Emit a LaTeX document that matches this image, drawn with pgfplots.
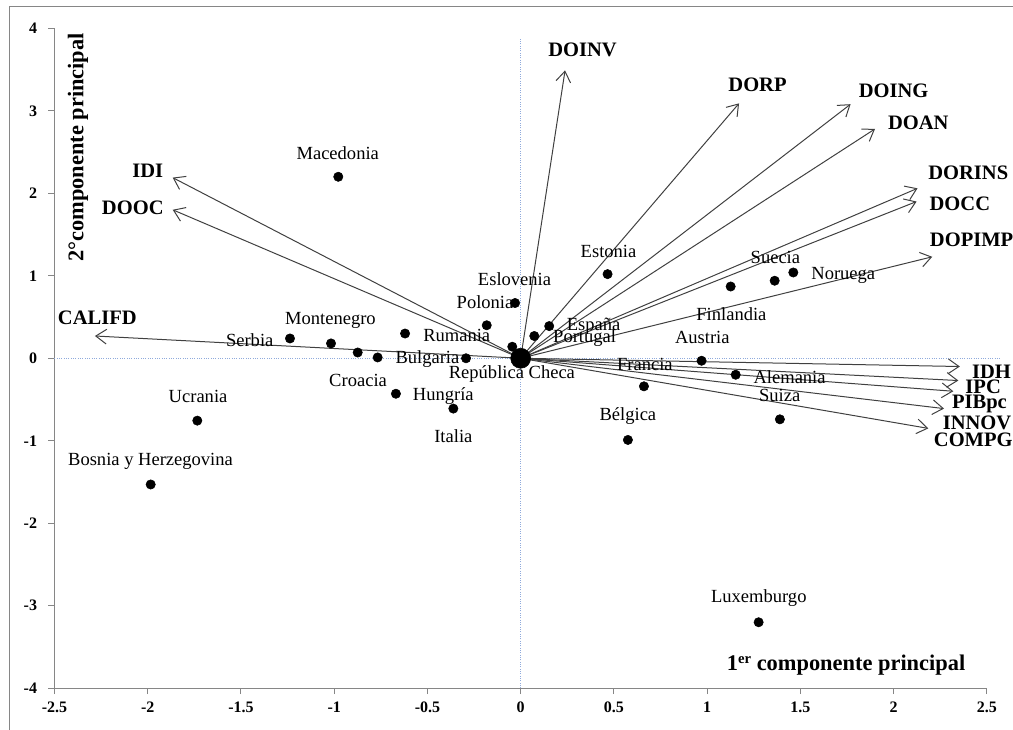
\documentclass[border=0pt]{standalone}
\usepackage{pgfplots}
\pgfplotsset{compat=1.18}
\usepackage{fontspec}
\setmainfont{Liberation Serif}
\usetikzlibrary{arrows.meta}
\definecolor{axgray}{HTML}{868686}
\definecolor{arrgray}{HTML}{404040}
\definecolor{refblue}{HTML}{8FAADC}
\pgfplotsset{
  vec/.style={arrgray, line width=0.75pt, -{Straight Barb[length=8pt,width=11pt]}, forget plot},
}
\tikzset{
  cl/.style={font=\fontsize{13.9}{16}\selectfont, inner sep=0pt},
  vl/.style={font=\bfseries\fontsize{15.4}{18}\selectfont, inner sep=0pt},
}
\begin{document}
\begin{tikzpicture}
\begin{axis}[
  x=139.875pt, y=61.875pt,
  xmin=-2.5, xmax=2.5, ymin=-4, ymax=4,
  axis lines*=left,
  axis line style={axgray, line width=0.75pt},
  xtick={-2.5,-2,-1.5,-1,-0.5,0,0.5,1,1.5,2,2.5},
  xticklabels={-2.5,-2,-1.5,-1,-0.5,0,0.5,1,1.5,2,2.5},
  ytick={-4,-3,-2,-1,0,1,2,3,4},
  yticklabels={-4,-3,-2,-1,0,1,2,3,4},
  tick align=outside, major tick length=4.5pt,
  tick style={axgray, line width=0.75pt},
  ticklabel style={font=\bfseries\fontsize{12}{14}\selectfont},
  xticklabel style={yshift=-2.5pt},
  yticklabel style={xshift=-5pt},
  clip=false,
]
% reference lines
\addplot[refblue, densely dotted, line width=0.75pt, forget plot] coordinates {(-2.5,0) (2.57,0)};
\addplot[refblue, densely dotted, line width=0.75pt, forget plot] coordinates {(0,-4) (0,3.87)};
% variable vectors
\addplot[vec] coordinates {(0,0) (-1.866,2.19)};   % IDI
\addplot[vec] coordinates {(0,0) (-1.866,1.80)};   % DOOC
\addplot[vec] coordinates {(0,0) (-2.283,0.27)};   % CALIFD
\addplot[vec] coordinates {(0,0) (0.238,3.49)};    % DOINV
\addplot[vec] coordinates {(0,0) (1.171,3.09)};    % DORP
\addplot[vec] coordinates {(0,0) (1.769,3.08)};    % DOING
\addplot[vec] coordinates {(0,0) (1.900,2.78)};    % DOAN
\addplot[vec] coordinates {(0,0) (2.128,2.06)};    % DORINS
\addplot[vec] coordinates {(0,0) (2.123,1.90)};    % DOCC
\addplot[vec] coordinates {(0,0) (2.207,1.23)};    % DOPIMP
\addplot[vec] coordinates {(0,0) (2.355,-0.10)};   % IDH
\addplot[vec] coordinates {(0,0) (2.347,-0.27)};   % IPC
\addplot[vec] coordinates {(0,0) (2.320,-0.40)};   % PIBpc
\addplot[vec] coordinates {(0,0) (2.270,-0.61)};   % INNOV
\addplot[vec] coordinates {(0,0) (2.186,-0.85)};   % COMPG
% countries
\addplot[only marks, mark=*, mark size=3.5pt, black] coordinates {
 (-0.978,2.20) (-0.030,0.67) (-0.182,0.40)
 (-1.237,0.24) (-1.017,0.18) (-0.874,0.07) (-0.767,0.01) (-0.620,0.30) (-0.293,0.00) (-0.045,0.14)
 (-1.734,-0.756) (-1.984,-1.53) (-0.669,-0.43) (-0.361,-0.61)
 (0.466,1.02) (0.153,0.39) (0.073,0.27) (1.126,0.87) (1.362,0.94) (1.462,1.04)
 (0.970,-0.03) (1.153,-0.20) (0.661,-0.34) (1.390,-0.74) (0.575,-0.99) (1.276,-3.20)
};
\addplot[only marks, mark=*, mark size=7.5pt, black] coordinates {(0,0)};
% country labels
\node[cl] at (axis cs:-0.981,2.49) {Macedonia};
\node[cl] at (axis cs:-0.033,0.96) {Eslovenia};
\node[cl] at (axis cs:-0.191,0.686) {Polonia};
\node[cl] at (axis cs:-1.020,0.464) {Montenegro};
\node[cl] at (axis cs:-1.453,0.222) {Serbia};
\node[cl] at (axis cs:-0.343,0.28) {Rumania};
\node[cl] at (axis cs:-0.500,-0.01) {Bulgaria};
\node[cl] at (axis cs:-0.047,-0.19) {República Checa};
\node[cl] at (axis cs:-0.872,-0.263) {Croacia};
\node[cl] at (axis cs:-0.415,-0.457) {Hungría};
\node[cl] at (axis cs:-0.361,-0.94) {Italia};
\node[cl] at (axis cs:-1.730,-0.465) {Ucrania};
\node[cl] at (axis cs:-1.985,-1.245) {Bosnia y Herzegovina};
\node[cl] at (axis cs:0.471,1.29) {Estonia};
\node[cl] at (axis cs:0.391,0.383) {España};
\node[cl] at (axis cs:0.343,0.242) {Portugal};
\node[cl] at (axis cs:1.366,1.224) {Suecia};
\node[cl] at (axis cs:1.730,1.01) {Noruega};
\node[cl] at (axis cs:1.130,0.537) {Finlandia};
\node[cl] at (axis cs:0.974,0.254) {Austria};
\node[cl] at (axis cs:0.666,-0.073) {Francia};
\node[cl] at (axis cs:1.442,-0.23) {Alemania};
\node[cl] at (axis cs:1.389,-0.445) {Suiza};
\node[cl] at (axis cs:0.575,-0.70) {Bélgica};
\node[cl] at (axis cs:1.277,-2.91) {Luxemburgo};
% variable labels
\node[vl] at (axis cs:-2.00,2.27) {IDI};
\node[vl] at (axis cs:-2.08,1.82) {DOOC};
\node[vl] at (axis cs:-2.27,0.49) {CALIFD};
\node[vl] at (axis cs:0.332,3.74) {DOINV};
\node[vl] at (axis cs:1.27,3.32) {DORP};
\node[vl] at (axis cs:2.00,3.24) {DOING};
\node[vl] at (axis cs:2.132,2.85) {DOAN};
\node[vl] at (axis cs:2.40,2.25) {DORINS};
\node[vl] at (axis cs:2.355,1.87) {DOCC};
\node[vl] at (axis cs:2.418,1.43) {DOPIMP};
\node[vl] at (axis cs:2.525,-0.17) {IDH};
\node[vl] at (axis cs:2.48,-0.35) {IPC};
\node[vl] at (axis cs:2.46,-0.554) {PIBpc};
\node[vl] at (axis cs:2.447,-0.78) {INNOV};
\node[vl] at (axis cs:2.427,-0.99) {COMPG};
% axis titles
\node[font=\bfseries\fontsize{16.8}{20}\selectfont, rotate=90, inner sep=0pt] at (axis cs:-2.374,2.555) {2°componente principal};
\node[font=\bfseries\fontsize{16.8}{20}\selectfont, inner sep=0pt] at (axis cs:1.745,-3.72) {1{\fontsize{11}{12}\selectfont\raisebox{0.45em}{er}} componente principal};
% outer frame
\draw[axgray, line width=0.75pt] (axis cs:-2.742,-4.7) -- (axis cs:-2.742,4.267) -- (axis cs:2.8,4.267);
\coordinate (bbll) at (axis cs:-2.792,-4.505);
\coordinate (bbur) at (axis cs:2.640,4.343);
\end{axis}
\pgfresetboundingbox
\path[use as bounding box] (bbll) rectangle (bbur);
\end{tikzpicture}
\end{document}
